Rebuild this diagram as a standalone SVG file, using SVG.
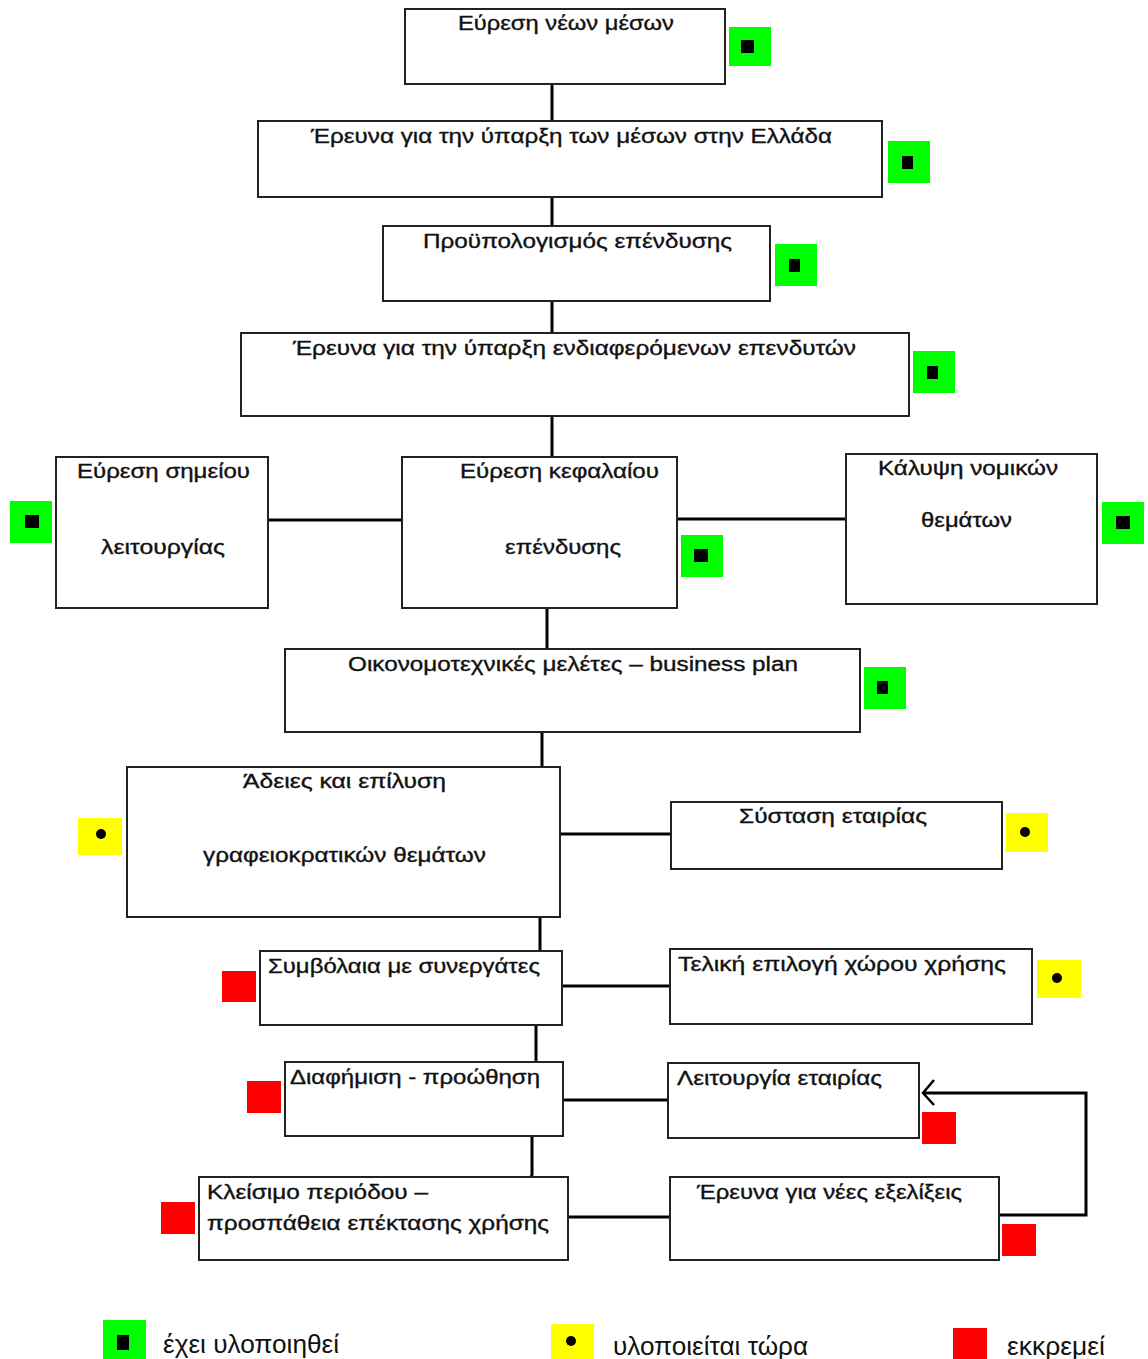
<svg xmlns="http://www.w3.org/2000/svg" width="1148" height="1359" viewBox="0 0 1148 1359">
<defs>
<style>
.box{fill:#fff;stroke:#222;stroke-width:2}
.t{font-family:"Liberation Sans",Arial,sans-serif;font-size:20px;fill:#111;stroke:#111;stroke-width:0.35}
.lg{font-family:"Liberation Sans",Arial,sans-serif;font-size:25px;fill:#111}
.c{fill:none;stroke:#000;stroke-width:3}
.g{fill:#00ff00}
.y{fill:#ffff00}
.r{fill:#ff0000}
.k{fill:#000}
</style>
<marker id="open" markerWidth="16" markerHeight="30" refX="13" refY="13" orient="auto" markerUnits="userSpaceOnUse">
<path d="M2,1 L13,13 L2,26" fill="none" stroke="#000" stroke-width="2.5"/>
</marker>
</defs>
<rect width="1148" height="1359" fill="#fff"/>

<g id="connectors">
<path class="c" d="M552,84 V121"/>
<path class="c" d="M552,197 V226"/>
<path class="c" d="M552,301 V333"/>
<path class="c" d="M552,416 V457"/>
<path class="c" d="M268,520 H402"/>
<path class="c" d="M677,519 H846"/>
<path class="c" d="M547,608 V649"/>
<path class="c" d="M542,732 V767"/>
<path class="c" d="M560,834 H671"/>
<path class="c" d="M540,917 V951"/>
<path class="c" d="M562,986 H670"/>
<path class="c" d="M536,1025 V1062"/>
<path class="c" d="M563,1100 H668"/>
<path class="c" d="M532,1136 V1175 L531,1177"/>
<path class="c" d="M568,1217 H670"/>
<path class="c" d="M998,1215 H1086 V1093 H923" marker-end="url(#open)"/>
</g>

<g id="n1">
<rect class="box" x="405" y="9" width="320" height="75"/>
<text class="t" x="458" y="30" textLength="216" lengthAdjust="spacingAndGlyphs">Εύρεση νέων μέσων</text>
<rect class="g" x="729" y="27" width="42" height="39"/><rect class="k" x="741" y="40" width="13" height="13"/>
</g>
<g id="n2">
<rect class="box" x="258" y="121" width="624" height="76"/>
<text class="t" x="311" y="143" textLength="521" lengthAdjust="spacingAndGlyphs">Έρευνα για την ύπαρξη των μέσων στην Ελλάδα</text>
<rect class="g" x="888" y="141" width="42" height="42"/><rect class="k" x="902" y="156" width="11" height="13"/>
</g>
<g id="n3">
<rect class="box" x="383" y="226" width="387" height="75"/>
<text class="t" x="423" y="248" textLength="309" lengthAdjust="spacingAndGlyphs">Προϋπολογισμός επένδυσης</text>
<rect class="g" x="775" y="244" width="42" height="42"/><rect class="k" x="789" y="259" width="11" height="13"/>
</g>
<g id="n4">
<rect class="box" x="241" y="333" width="668" height="83"/>
<text class="t" x="293" y="355" textLength="563" lengthAdjust="spacingAndGlyphs">Έρευνα για την ύπαρξη ενδιαφερόμενων επενδυτών</text>
<rect class="g" x="913" y="351" width="42" height="42"/><rect class="k" x="927" y="366" width="11" height="13"/>
</g>
<g id="n5">
<rect class="box" x="56" y="457" width="212" height="151"/>
<text class="t" x="77" y="478" textLength="173" lengthAdjust="spacingAndGlyphs">Εύρεση σημείου</text>
<text class="t" x="101" y="554" textLength="124" lengthAdjust="spacingAndGlyphs">λειτουργίας</text>
<rect class="g" x="10" y="501" width="42" height="42"/><rect class="k" x="25" y="515" width="14" height="13"/>
</g>
<g id="n6">
<rect class="box" x="402" y="457" width="275" height="151"/>
<text class="t" x="460" y="478" textLength="199" lengthAdjust="spacingAndGlyphs">Εύρεση κεφαλαίου</text>
<text class="t" x="505" y="554" textLength="116" lengthAdjust="spacingAndGlyphs">επένδυσης</text>
<rect class="g" x="681" y="535" width="42" height="42"/><rect class="k" x="694" y="549" width="14" height="13"/>
</g>
<g id="n7">
<rect class="box" x="846" y="454" width="251" height="150"/>
<text class="t" x="878" y="475" textLength="180" lengthAdjust="spacingAndGlyphs">Κάλυψη νομικών</text>
<text class="t" x="921" y="527" textLength="91" lengthAdjust="spacingAndGlyphs">θεμάτων</text>
<rect class="g" x="1102" y="502" width="42" height="42"/><rect class="k" x="1116" y="516" width="14" height="13"/>
</g>
<g id="n8">
<rect class="box" x="285" y="649" width="575" height="83"/>
<text class="t" x="348" y="671" textLength="450" lengthAdjust="spacingAndGlyphs">Οικονομοτεχνικές μελέτες – business plan</text>
<rect class="g" x="864" y="667" width="42" height="42"/><rect class="k" x="877" y="681" width="11" height="13"/>
</g>
<g id="n9">
<rect class="box" x="127" y="767" width="433" height="150"/>
<text class="t" x="243" y="788" textLength="203" lengthAdjust="spacingAndGlyphs">Άδειες και επίλυση</text>
<text class="t" x="203" y="862" textLength="283" lengthAdjust="spacingAndGlyphs">γραφειοκρατικών θεμάτων</text>
<rect class="y" x="78" y="818" width="44" height="37"/><circle class="k" cx="101" cy="834" r="5"/>
</g>
<g id="n10">
<rect class="box" x="671" y="802" width="331" height="67"/>
<text class="t" x="739" y="823" textLength="188" lengthAdjust="spacingAndGlyphs">Σύσταση εταιρίας</text>
<rect class="y" x="1006" y="813" width="42" height="39"/><circle class="k" cx="1025" cy="832" r="5"/>
</g>
<g id="n11">
<rect class="box" x="260" y="951" width="302" height="74"/>
<text class="t" x="268" y="973" textLength="272" lengthAdjust="spacingAndGlyphs">Συμβόλαια με συνεργάτες</text>
<rect class="r" x="222" y="971" width="34" height="31"/>
</g>
<g id="n12">
<rect class="box" x="670" y="949" width="362" height="75"/>
<text class="t" x="678" y="971" textLength="328" lengthAdjust="spacingAndGlyphs">Τελική επιλογή χώρου χρήσης</text>
<rect class="y" x="1037" y="960" width="44" height="38"/><circle class="k" cx="1057" cy="978" r="5"/>
</g>
<g id="n13">
<rect class="box" x="285" y="1062" width="278" height="74"/>
<text class="t" x="290" y="1084" textLength="250" lengthAdjust="spacingAndGlyphs">Διαφήμιση - προώθηση</text>
<rect class="r" x="247" y="1081" width="34" height="32"/>
</g>
<g id="n14">
<rect class="box" x="668" y="1063" width="251" height="75"/>
<text class="t" x="677" y="1085" textLength="205" lengthAdjust="spacingAndGlyphs">Λειτουργία εταιρίας</text>
<rect class="r" x="922" y="1112" width="34" height="32"/>
</g>
<g id="n15">
<rect class="box" x="199" y="1177" width="369" height="83"/>
<text class="t" x="207" y="1199" textLength="221" lengthAdjust="spacingAndGlyphs">Κλείσιμο περιόδου –</text>
<text class="t" x="207" y="1230" textLength="342" lengthAdjust="spacingAndGlyphs">προσπάθεια επέκτασης χρήσης</text>
<rect class="r" x="161" y="1202" width="34" height="32"/>
</g>
<g id="n16">
<rect class="box" x="670" y="1177" width="329" height="83"/>
<text class="t" x="697" y="1199" textLength="265" lengthAdjust="spacingAndGlyphs">Έρευνα για νέες εξελίξεις</text>
<rect class="r" x="1002" y="1224" width="34" height="32"/>
</g>

<g id="legend">
<rect class="g" x="103" y="1320" width="43" height="39"/><rect class="k" x="117" y="1335" width="12" height="15"/>
<text class="lg" x="163" y="1353" textLength="176" lengthAdjust="spacingAndGlyphs">έχει υλοποιηθεί</text>
<rect class="y" x="551" y="1324" width="43" height="35"/><circle class="k" cx="571" cy="1341" r="5"/>
<text class="lg" x="613" y="1355" textLength="195" lengthAdjust="spacingAndGlyphs">υλοποιείται τώρα</text>
<rect class="r" x="953" y="1328" width="34" height="31"/>
<text class="lg" x="1007" y="1355" textLength="98" lengthAdjust="spacingAndGlyphs">εκκρεμεί</text>
</g>
</svg>
